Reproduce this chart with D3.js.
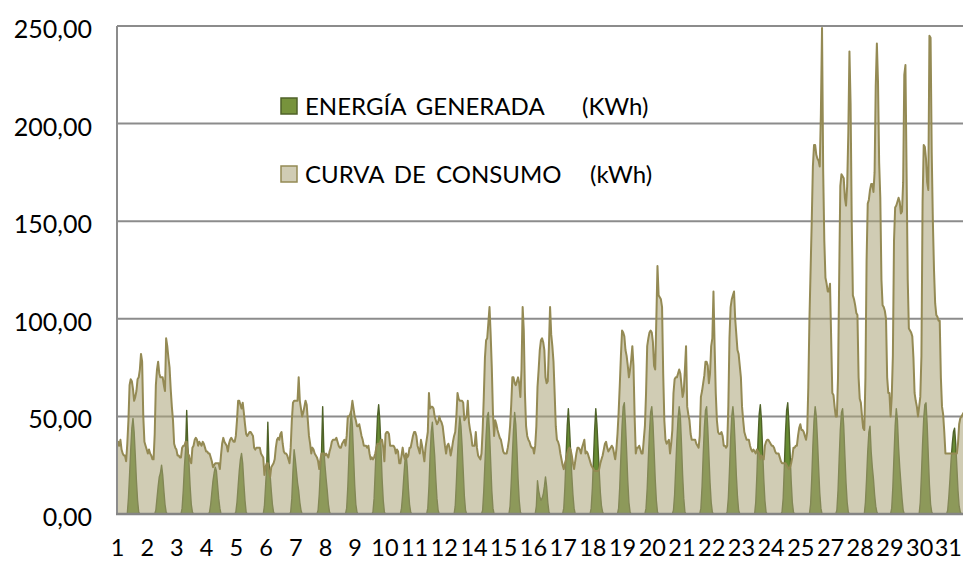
<!DOCTYPE html>
<html>
<head>
<meta charset="utf-8">
<script src="https://cdnjs.cloudflare.com/ajax/libs/d3/7.8.5/d3.min.js"></script>
<style>
  body{margin:0;background:#fff;}
  .canvas{width:963px;height:575px;}
  text{font-family:Lato,"Open Sans",sans-serif;fill:#000;}
</style>
</head>
<body>
<div class="canvas" id="canvas"></div>
<script>
//hourly values, one row per day (kWh)
var consumo = [
  [34,37,35,38,33,31,30,30,27,36,48,66,69,68,64,58,60,63,69,70,74,82,78,50],
  [37,35,33,31,33,31,30,28,28,41,66,74,78,72,70,70,70,66,63,90,86,80,75,64],
  [55,48,36,34,33,30,30,29,29,34,35,35,37,37,31,30,27,26,34,35,38,39,38,35],
  [37,36,35,37,36,34,32,32,31,31,29,27,24,25,26,26,26,26,23,30,36,39,37,36],
  [35,32,36,38,39,38,37,37,40,48,58,58,56,54,57,52,46,41,40,41,42,42,41,40],
  [34,33,34,34,34,34,31,30,29,20,24,26,26,22,19,24,25,26,28,34,38,39,38,41],
  [42,36,32,31,31,30,28,26,34,48,57,58,58,58,58,70,58,54,50,52,55,58,56,48],
  [40,36,31,34,33,31,30,29,27,23,28,31,31,31,30,31,30,29,32,34,37,38,38,38],
  [39,37,35,34,34,36,37,38,35,40,50,50,51,53,58,54,50,48,45,45,46,43,40,38],
  [35,35,35,34,35,31,28,29,28,29,31,34,36,36,36,38,38,34,27,41,42,42,41,35],
  [35,35,35,34,31,33,32,26,26,30,34,30,28,31,29,30,34,34,37,40,42,42,40,35],
  [33,31,38,35,31,27,34,38,42,62,54,55,55,54,50,48,46,47,50,48,47,45,40,35],
  [31,35,36,34,30,33,37,40,42,50,62,59,58,58,58,57,48,49,50,58,47,43,40,35],
  [35,35,42,34,30,29,28,31,43,60,80,89,90,98,106,92,75,52,40,48,46,43,41,39],
  [38,35,32,31,31,31,34,38,45,56,70,70,67,66,68,70,67,60,74,106,94,62,45,40],
  [38,37,35,34,34,31,35,45,65,74,84,89,90,88,84,70,67,68,86,106,92,86,78,62],
  [45,38,37,35,31,28,25,23,26,28,31,33,34,33,30,26,23,27,31,34,34,33,31,34],
  [36,38,31,32,31,29,27,25,24,23,22,22,22,22,23,26,28,30,33,36,37,34,32,33],
  [34,35,34,31,28,33,41,52,66,81,94,93,91,84,81,76,70,74,79,86,76,50,31,34],
  [34,35,33,31,31,38,45,62,86,90,93,94,93,88,76,74,100,127,112,111,110,106,72,48],
  [38,36,37,38,31,36,43,62,69,70,70,72,74,72,66,60,63,74,86,55,51,48,41,38],
  [38,38,38,36,35,34,40,60,63,67,71,78,78,76,67,72,86,90,114,86,62,48,42,41],
  [41,42,40,35,35,34,35,55,90,106,110,112,114,100,92,84,82,76,70,55,48,42,40,38],
  [38,38,35,33,32,33,32,31,33,32,31,28,30,29,28,35,37,38,38,37,36,35,35,34],
  [32,31,31,31,29,27,26,26,26,26,25,24,23,24,26,29,34,34,35,35,40,44,46,43],
  [43,42,40,38,42,65,100,125,150,178,189,189,184,182,181,178,205,249,176,140,121,118,114,114],
  [118,90,62,61,55,50,50,70,120,168,174,173,172,162,158,168,195,237,210,150,112,110,107,103],
  [102,70,59,57,50,44,43,70,130,159,161,166,169,169,165,175,219,241,221,180,162,120,107,106],
  [104,100,70,62,62,50,60,81,140,157,158,160,162,160,154,155,170,225,230,175,120,95,94,93],
  [91,80,62,58,55,50,55,60,81,160,189,188,182,170,166,245,244,185,150,125,108,102,101,99],
  [99,70,55,51,42,31,31,31,31,31,31,31,31,31,31,31,36,46,49,50,51,52,52,50]
];

var generada = [
  [0,0,0,0,0,0,0,0,0,0,8,20,33,44,49,42,30,17,7,1,0,0,0,0],
  [0,0,0,0,0,0,0,0,0,0,2,8,14,19,21,25,20,12,5,1,0,0,0,0],
  [0,0,0,0,0,0,0,0,0,3,12,24,33,53,34,26,14,5,1,0,0,0,0,0],
  [0,0,0,0,0,0,0,0,0,1,5,11,17,21,24,22,15,8,3,0,0,0,0,0],
  [0,0,0,0,0,0,0,0,1,6,14,22,28,31,26,16,7,1,0,0,0,0,0,0],
  [0,0,0,0,0,0,0,0,0,4,14,24,47,26,20,12,5,1,0,0,0,0,0,0],
  [0,0,0,0,0,0,0,0,1,8,22,33,28,22,16,12,6,2,0,0,0,0,0,0],
  [0,0,0,0,0,0,0,0,2,10,22,32,55,33,25,18,12,5,1,0,0,0,0,0],
  [0,0,0,0,0,0,0,0,0,3,14,30,44,52,45,30,15,5,1,0,0,0,0,0],
  [0,0,0,0,0,0,0,0,1,8,22,36,50,56,48,34,18,7,1,0,0,0,0,0],
  [0,0,0,0,0,0,0,0,0,3,10,19,27,31,24,13,5,1,0,0,0,0,0,0],
  [0,0,0,0,0,0,0,0,3,14,30,42,47,38,30,18,8,2,0,0,0,0,0,0],
  [0,0,0,0,0,0,0,0,4,16,30,42,50,45,35,22,9,2,0,0,0,0,0,0],
  [0,0,0,0,0,0,0,0,2,12,26,40,50,52,42,27,12,3,0,0,0,0,0,0],
  [0,0,0,0,0,0,0,0,4,16,30,43,52,46,33,18,7,1,0,0,0,0,0,0],
  [0,0,0,0,0,0,0,4,17,12,9,7,8,10,14,19,14,6,1,0,0,0,0,0],
  [0,0,0,0,0,0,0,3,14,30,45,54,44,32,20,10,3,0,0,0,0,0,0,0],
  [0,0,0,0,0,0,0,3,13,28,43,54,46,34,22,11,4,1,0,0,0,0,0,0],
  [0,0,0,0,0,0,0,3,14,30,45,55,57,46,32,17,6,1,0,0,0,0,0,0],
  [0,0,0,0,0,0,0,3,13,28,42,52,55,47,33,18,7,1,0,0,0,0,0,0],
  [0,0,0,0,0,0,0,2,10,24,38,49,55,50,36,20,8,1,0,0,0,0,0,0],
  [0,0,0,0,0,0,0,3,14,30,44,53,55,44,30,16,6,1,0,0,0,0,0,0],
  [0,0,0,0,0,0,1,8,22,38,50,55,48,35,20,9,2,0,0,0,0,0,0,0],
  [0,0,0,0,0,0,0,6,20,38,51,56,48,33,18,7,1,0,0,0,0,0,0,0],
  [0,0,0,0,0,0,1,8,24,41,53,57,47,32,17,6,1,0,0,0,0,0,0,0],
  [0,0,0,0,0,0,0,5,18,35,48,55,50,38,24,11,3,0,0,0,0,0,0,0],
  [0,0,0,0,0,0,2,12,28,43,52,54,45,30,16,6,1,0,0,0,0,0,0,0],
  [0,0,0,0,0,0,0,6,18,32,42,45,32,24,18,10,4,1,0,0,0,0,0,0],
  [0,0,0,0,0,0,3,14,30,45,54,48,34,24,16,8,2,0,0,0,0,0,0,0],
  [0,0,0,0,0,0,0,6,20,36,49,56,57,46,30,15,5,1,0,0,0,0,0,0],
  [0,0,0,0,0,0,0,2,9,18,28,36,42,44,36,24,12,4,1,0,0,0,0,0]
];

//category labels shown every 26 hours
var etiquetasX = [1,2,3,4,5,6,7,8,9,10,11,12,14,15,16,17,18,19,20,21,22,23,24,25,27,28,29,30,31];
var ticksY = [0,50,100,150,200,250];
var series = ['ENERGÍA GENERADA','CURVA DE CONSUMO'];
var unidades = ['(KWh)','(kWh)'];

var consumoHora = consumo.flat(),
    generadaHora = generada.flat();

var outerWidth = 963, outerHeight = 575;
var m = {t:26,r:-3,b:61,l:117};
var w = outerWidth - m.l - m.r,
    h = outerHeight - m.t - m.b;

var svg = d3.select('.canvas')
    .append('svg')
    .attr('width',outerWidth)
    .attr('height',outerHeight);
var plot = svg.append('g')
    .attr('transform','translate(' + m.l + ',' + m.t + ')');

var scaleX = d3.scaleLinear()
    .domain([0, consumoHora.length-1])
    .range([0,w]);
var scaleY = d3.scaleLinear()
    .domain([0,250])
    .range([h,0]);

var es = d3.formatLocale({decimal:',',thousands:'.',grouping:[3],currency:['','€']});

//gridlines
plot.selectAll('.grid')
    .data(ticksY.slice(1))
    .enter()
    .append('line')
    .attr('class','grid')
    .attr('x1',0).attr('x2',w)
    .attr('y1',function(d){return scaleY(d)})
    .attr('y2',function(d){return scaleY(d)})
    .attr('stroke','#8c8c8c')
    .attr('stroke-width',2);

var area = d3.area()
    .x(function(d,i){return scaleX(i)})
    .y0(scaleY(0))
    .y1(function(d){return scaleY(d)});
var line = d3.line()
    .x(function(d,i){return scaleX(i)})
    .y(function(d){return scaleY(d)});

//generated energy under, consumption drawn over it semi-transparent
plot.append('path')
    .datum(generadaHora)
    .attr('d',area)
    .attr('fill','#688c34')
    .attr('stroke','#4f6228')
    .attr('stroke-width',1.4)
    .attr('stroke-linejoin','round');

plot.append('path')
    .datum(consumoHora)
    .attr('d',area)
    .attr('fill','#aba479')
    .attr('fill-opacity',0.56);

plot.append('path')
    .datum(consumoHora)
    .attr('d',line)
    .attr('fill','none')
    .attr('stroke','#948a54')
    .attr('stroke-width',2)
    .attr('stroke-linejoin','round');

//axes
var axisY = d3.axisLeft()
    .scale(scaleY)
    .tickValues(ticksY)
    .tickSize(0)
    .tickPadding(25)
    .tickFormat(es.format('.2f'));
var gy = plot.append('g').attr('class','axis axis-y').call(axisY);
gy.select('.domain').remove();
gy.selectAll('text')
    .attr('dy','0.46em')
    .style('font-size','25px');

var axisX = d3.axisBottom()
    .scale(scaleX)
    .tickValues(etiquetasX.map(function(d,k){return k*26}))
    .tickSize(0)
    .tickPadding(25)
    .tickFormat(function(d,k){return etiquetasX[k]});
var gx = plot.append('g').attr('class','axis axis-x')
    .attr('transform','translate(0,'+h+')')
    .call(axisX);
gx.select('.domain').remove();
gx.selectAll('text').style('font-size','23.5px');

//keep the last label inside the picture
gx.selectAll('.tick').each(function(){
    var t = d3.select(this).select('text');
    var tr = this.transform.baseVal.consolidate().matrix.e;
    var half = t.node().getComputedTextLength()/2;
    var over = m.l + tr + half - (outerWidth - 1);
    if(over > 0){ t.attr('dx', -over); }
});

plot.append('line')
    .attr('x1',0).attr('x2',0)
    .attr('y1',0).attr('y2',h)
    .attr('stroke','#8c8c8c').attr('stroke-width',2);
plot.append('line')
    .attr('x1',-1).attr('x2',w)
    .attr('y1',h).attr('y2',h)
    .attr('stroke','#858585').attr('stroke-width',2.5);

//legend
var legend = svg.append('g').attr('class','legend');
var lg = legend.selectAll('.item')
    .data(series)
    .enter()
    .append('g')
    .attr('class','item')
    .attr('transform',function(d,i){return 'translate(281,'+(98+i*68)+')'});
lg.append('rect')
    .attr('width',16).attr('height',16)
    .attr('fill',function(d,i){return i==0?'#77933c':'#d0ccb4'})
    .attr('stroke',function(d,i){return i==0?'#4f6228':'#948a54'})
    .attr('stroke-width',1.5);
lg.append('text')
    .attr('x',24).attr('y',17)
    .style('font-size','24px')
    .style('word-spacing','4px')
    .text(function(d){return d});
lg.append('text')
    .attr('x',function(d,i){return i==0?301:309})
    .attr('y',17)
    .style('font-size','24px')
    .text(function(d,i){return unidades[i]});
</script>
</body>
</html>
